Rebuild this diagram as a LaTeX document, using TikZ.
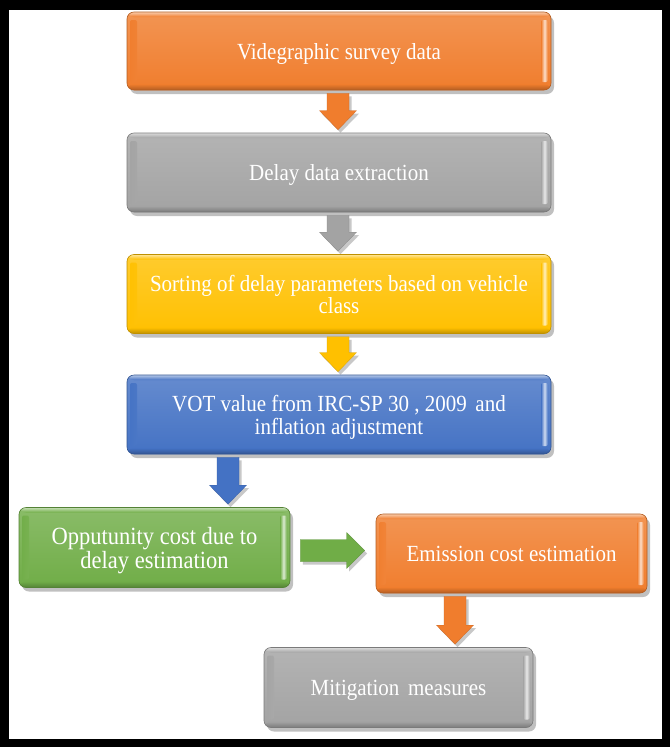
\documentclass[tikz,border=0pt]{standalone}
\usepackage{fontspec}
\usepackage{graphicx}
\setmainfont{Liberation Serif}
\usetikzlibrary{shadows,calc}
\definecolor{cOrange}{RGB}{240,125,45}
\definecolor{cGray}{RGB}{163,163,163}
\definecolor{cYellow}{RGB}{255,192,0}
\definecolor{cBlue}{RGB}{68,114,196}
\definecolor{cGreen}{RGB}{112,173,71}
\newcommand{\tx}[1]{\raisebox{-3.5pt}[\height][\depth]{\scalebox{1}[1.1]{\begin{tabular}{@{}c@{}}#1\end{tabular}}}}
\tikzset{
  box/.style={rounded corners=7pt, draw=#1!75!black, line width=0.6pt,
    top color=#1!82!white, bottom color=#1, text=white, align=center,
    inner sep=0pt, font=\fontsize{21}{19.5}\selectfont,
    drop shadow={shadow xshift=3pt, shadow yshift=-4pt, opacity=0.35, fill=black!70},
    path picture={
      \shade[left color=#1, right color=#1, middle color=white!75!#1, rounded corners=2pt]
        ([xshift=3pt,yshift=-8pt]path picture bounding box.north west) rectangle
        ([xshift=10pt,yshift=8pt]path picture bounding box.south west);
      \shade[left color=#1, right color=#1, middle color=white!75!#1, rounded corners=2pt]
        ([xshift=-10pt,yshift=-8pt]path picture bounding box.north east) rectangle
        ([xshift=-3pt,yshift=8pt]path picture bounding box.south east);
      \shade[top color=#1, bottom color=#1!75!black]
        ([yshift=6pt]path picture bounding box.south west) rectangle
        (path picture bounding box.south east);
      \shade[top color=white!60!#1, bottom color=#1]
        (path picture bounding box.north west) rectangle
        ([yshift=-5pt]path picture bounding box.north east);
    }},
  blockarrow/.style={fill=#1, draw=#1!85!black, line width=0.3pt,
    drop shadow={shadow xshift=2.5pt, shadow yshift=-3pt, opacity=0.3, fill=black!70}}
}
\newcommand{\varrow}[4]{%
  \path[blockarrow=#4] let \p1=(#1.south), \p2=(#2.north), \p3=(#3,0) in
    (\x3-11pt,\y1-3pt) -- (\x3+11pt,\y1-3pt) -- (\x3+11pt,\y2+22pt) --
    (\x3+18.5pt,\y2+22pt) -- (\x3,\y2+3pt) -- (\x3-18.5pt,\y2+22pt) --
    (\x3-11pt,\y2+22pt) -- cycle;}
\newcommand{\harrow}[3]{%
  \path[blockarrow=#3] let \p1=(#1.east), \p2=(#2.west), \n1={0.5*(\y1+\y2)} in
    (\x1+10pt,\n1+11pt) -- (\x2-29pt,\n1+11pt) -- (\x2-29pt,\n1+18pt) --
    (\x2-11pt,\n1) -- (\x2-29pt,\n1-18pt) -- (\x2-29pt,\n1-11pt) --
    (\x1+10pt,\n1-11pt) -- cycle;}
\begin{document}
\begin{tikzpicture}[x=1pt,y=-1pt]
\fill[black] (0,0) rectangle (670,747);
\fill[white] (9,10) rectangle (662,739);
\useasboundingbox (0,0) rectangle (670,747);

\node[box=cOrange, minimum width=424pt, minimum height=78pt] (b1) at (339,51) {\tx{Videgraphic survey data}};
\node[box=cGray, minimum width=424pt, minimum height=79pt] (b2) at (339,172.5) {\tx{Delay data extraction}};
\node[box=cYellow, minimum width=424pt, minimum height=79pt] (b3) at (339,294) {\tx{Sorting of delay parameters based on vehicle\\class}};
\node[box=cBlue, minimum width=424pt, minimum height=79pt] (b4) at (339,414.5) {\tx{VOT value from IRC-SP 30 , 2009\, and\\inflation adjustment}};
\node[box=cGreen, minimum width=271pt, minimum height=80pt, font=\fontsize{22.5}{21}\selectfont] (b5) at (154.5,547.5) {\tx{Opputunity cost due to\\delay estimation}};
\node[box=cOrange, minimum width=271pt, minimum height=79pt] (b6) at (511.5,553.5) {\tx{Emission cost estimation}};
\node[box=cGray, minimum width=269pt, minimum height=80pt] (b7) at (398.5,687.5) {\tx{Mitigation\, measures}};

\varrow{b1}{b2}{338}{cOrange}
\varrow{b2}{b3}{338}{cGray}
\varrow{b3}{b4}{338}{cYellow}
\varrow{b4}{b5}{228}{cBlue}
\harrow{b5}{b6}{cGreen}
\varrow{b6}{b7}{455}{cOrange}
\end{tikzpicture}
\end{document}
